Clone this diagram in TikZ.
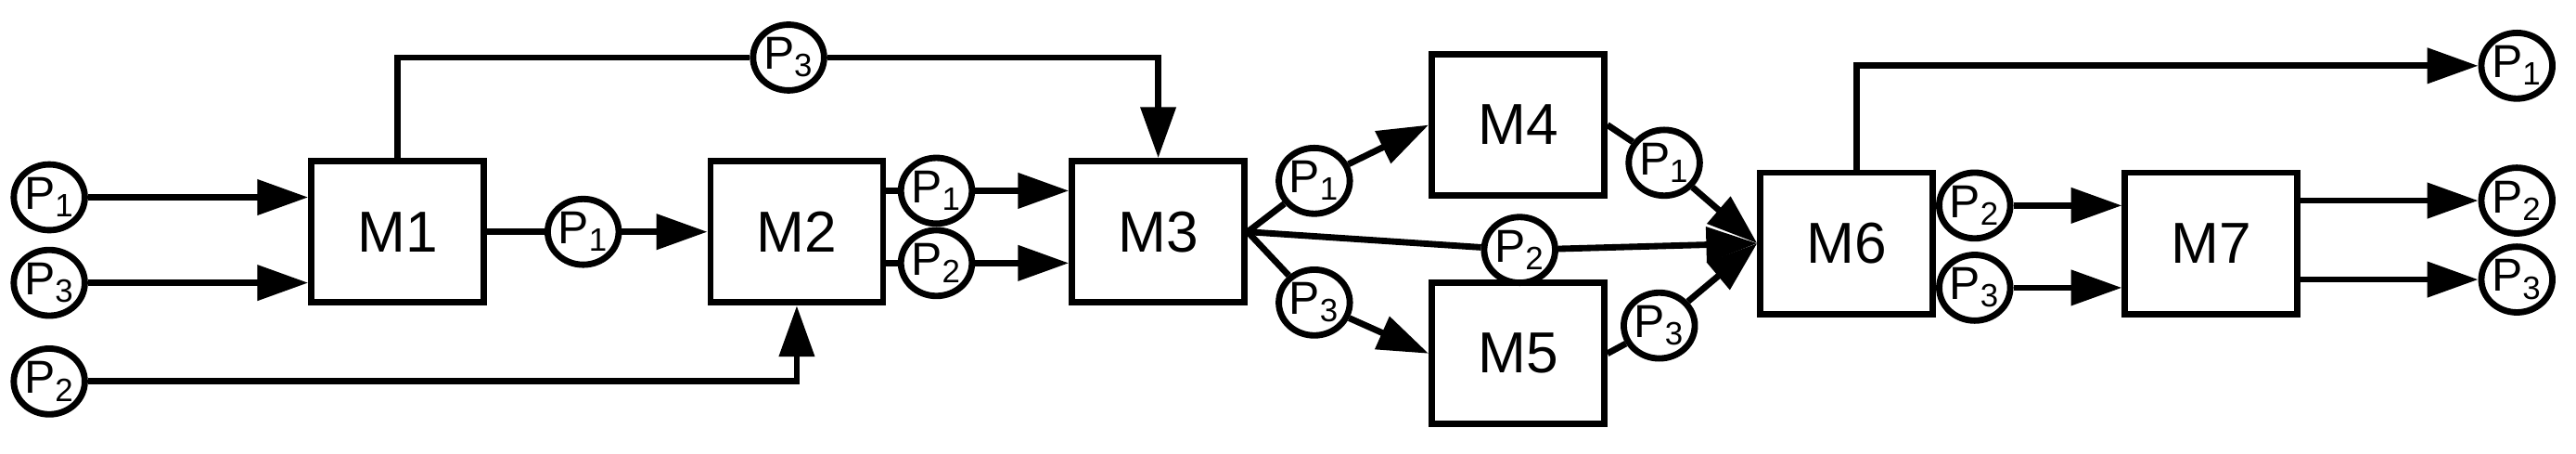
\documentclass[tikz,border=0pt]{standalone}
\usepackage{fontspec}
\setmainfont{Liberation Sans}
\usetikzlibrary{positioning, shapes.geometric, arrows.meta, calc}

\begin{document}
\begin{tikzpicture}[x=0.02cm,y=-0.02cm,line width=2.2pt,
    mach/.style={draw,rectangle,minimum width=2.1cm,minimum height=1.72cm,font=\fontsize{20}{20}\selectfont,inner sep=0},
    part/.style={draw,ellipse,fill=white,minimum width=0.66cm,minimum height=0.8cm,inner sep=0,font=\fontsize{16}{16}\selectfont},
    flow/.style={-{Triangle[length=0.62cm,width=0.42cm]}}]
  \useasboundingbox (0,0) rectangle (1568,276);
      % machines
      \node(m1)[mach] at (242,141){M1};
      \node(m2)[mach] at (485,141){M2};
      \node(m3)[mach] at (705,141){M3};
      \node(m4)[mach] at (924,76){M4};
      \node(m5)[mach] at (924,215){M5};
      \node(m6)[mach] at (1124,148){M6};
      \node(m7)[mach] at (1346,148){M7};

      % parts in
      \node(in1)[part] at (30,120){P\textsubscript{1}};
      \node(in3)[part] at (30,172){P\textsubscript{3}};
      \node(in2)[part] at (30,232){P\textsubscript{2}};
      \node(top3)[part] at (480,35){P\textsubscript{3}};
      \node(a1)[part] at (355,141){P\textsubscript{1}};
      \node(b1)[part] at (570,116){P\textsubscript{1}};
      \node(b2)[part] at (570,160){P\textsubscript{2}};
      \node(c1)[part] at (800,110){P\textsubscript{1}};
      \node(c2)[part] at (925,152){P\textsubscript{2}};
      \node(c3)[part] at (800,184){P\textsubscript{3}};
      \node(d1)[part] at (1013,99){P\textsubscript{1}};
      \node(d3)[part] at (1010,198){P\textsubscript{3}};
      \node(e2)[part] at (1202,125){P\textsubscript{2}};
      \node(e3)[part] at (1202,175){P\textsubscript{3}};
      \node(out1)[part] at (1532,40){P\textsubscript{1}};
      \node(out2)[part] at (1532,122){P\textsubscript{2}};
      \node(out3)[part] at (1532,170){P\textsubscript{3}};

      \draw[flow](in1)--(in1-|m1.west);
      \draw[flow](in3)--(in3-|m1.west);
      \draw[flow](in2)-|(m2.south);
      \draw(m1.east)--(a1);
      \draw[flow](a1)--(m2);
      \draw[flow](m1.north)|-(top3.west) (top3.east)-|(m3.north);
      \draw(b1-|m2.east)--(b1);
      \draw[flow](b1)--(b1-|m3.west);
      \draw(b2-|m2.east)--(b2);
      \draw[flow](b2)--(b2-|m3.west);
      \draw(m3.east)--(c1);
      \draw[flow](c1)--(m4.west);
      \draw(m3.east)--(c2);
      \draw[flow](c2)--(m6.west);
      \draw(m3.east)--(c3);
      \draw[flow](c3)--(m5.west);
      \draw(m4.east)--(d1);
      \draw[flow](d1)--(m6.west);
      \draw(m5.east)--(d3);
      \draw[flow](d3)--(m6.west);
      \coordinate(m6top) at ($(m6.north)+(6,0)$);
      \draw[flow](m6top)|-(out1);
      \draw(e2-|m6.east)--(e2);
      \draw[flow](e2)--(e2-|m7.west);
      \draw(e3-|m6.east)--(e3);
      \draw[flow](e3)--(e3-|m7.west);
      \draw[flow](out2-|m7.east)--(out2);
      \draw[flow](out3-|m7.east)--(out3);
\end{tikzpicture}
\end{document}
